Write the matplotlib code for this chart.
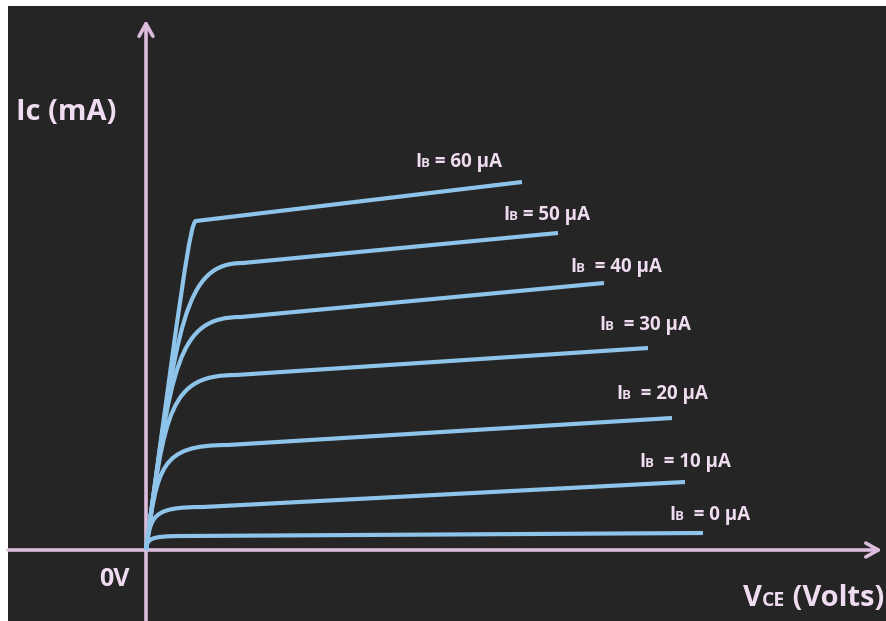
import matplotlib
matplotlib.use("Agg")
import matplotlib.pyplot as plt
from matplotlib.path import Path
from matplotlib.patches import PathPatch
from matplotlib.offsetbox import TextArea, HPacker, AnnotationBbox


BG = "#252525"
AXIS = "#dcbcdc"
CURVE = "#8ec3ea"
TEXT = "#f0dcf0"
FONT = ["Open Sans", "DejaVu Sans"]

# base currents (uA) and the curve shapes (V, mA)
ib_values = [0, 10, 20, 30, 40, 50, 60]
knee_v = [0.78, 1.14, 1.64, 1.80, 1.90, 1.94, 1.00]
knee_ma = [0.28, 0.86, 2.10, 3.50, 4.66, 5.74, 6.58]
end_v = [11.14, 10.78, 10.52, 10.04, 9.16, 8.24, 7.52]
end_ma = [0.34, 1.36, 2.64, 4.04, 5.34, 6.34, 7.36]

# label anchor (left edge, middle) for each curve
label_x = [10.46, 9.86, 9.40, 9.06, 8.48, 7.14, 5.38]
label_y = [0.70, 1.76, 3.12, 4.50, 5.66, 6.70, 7.76]
label_gap = ["  ", "  ", "  ", "  ", "  ", " ", " "]

ENV = 0.135  # dV/dI of the saturation edge


fig = plt.figure(figsize=(8.86, 6.21), dpi=100, facecolor="white")
ax = fig.add_axes([8 / 886, 0, 878 / 886, 615 / 621])
ax.set_facecolor(BG)
ax.set_xlim(-2.76, 14.80)
ax.set_ylim(-1.42, 10.88)
ax.set_xticks([])
ax.set_yticks([])
for s in ax.spines.values():
    s.set_visible(False)

# axes with open arrow heads
arrow = dict(arrowstyle="->,head_length=0.9,head_width=0.5", color=AXIS, lw=2.6,
             shrinkA=0, shrinkB=0)
ax.annotate("", xy=(0, 10.6), xytext=(0, -1.42), arrowprops=arrow)
ax.annotate("", xy=(14.72, 0), xytext=(-2.76, 0), arrowprops=arrow)

for i in range(len(ib_values)):
    yk = knee_ma[i]
    verts = [(0, 0), (ENV * 0.8 * yk, 0.8 * yk), (ENV * yk, yk), (knee_v[i], yk),
             (end_v[i], end_ma[i])]
    codes = [Path.MOVETO, Path.CURVE4, Path.CURVE4, Path.CURVE4, Path.LINETO]
    ax.add_patch(PathPatch(Path(verts, codes), facecolor="none", edgecolor=CURVE,
                           lw=3.0, capstyle="butt", joinstyle="round", zorder=3))


def label(parts, xy, align=(0, 0.5)):
    boxes = [TextArea(s, textprops=dict(color=TEXT, fontsize=fs, fontweight="bold",
                                        family=FONT)) for s, fs in parts]
    pack = HPacker(children=boxes, align="baseline", pad=0, sep=0)
    ab = AnnotationBbox(pack, xy, xycoords="data", frameon=False,
                        box_alignment=align, pad=0, zorder=5)
    ax.add_artist(ab)


for i, ib in enumerate(ib_values):
    label([("I", 13.5), ("B", 9.5), (f"{label_gap[i]}= {ib} µA", 13.5)],
          (label_x[i], label_y[i]))

label([("Ic (mA)", 21)], (-2.60, 8.74))
label([("0V", 18)], (-0.94, -0.60))
label([("V", 21), ("CE", 14), (" (Volts)", 21)], (14.76, -0.96), align=(1, 0.5))

fig.savefig("out.png", dpi=100, facecolor=fig.get_facecolor())
